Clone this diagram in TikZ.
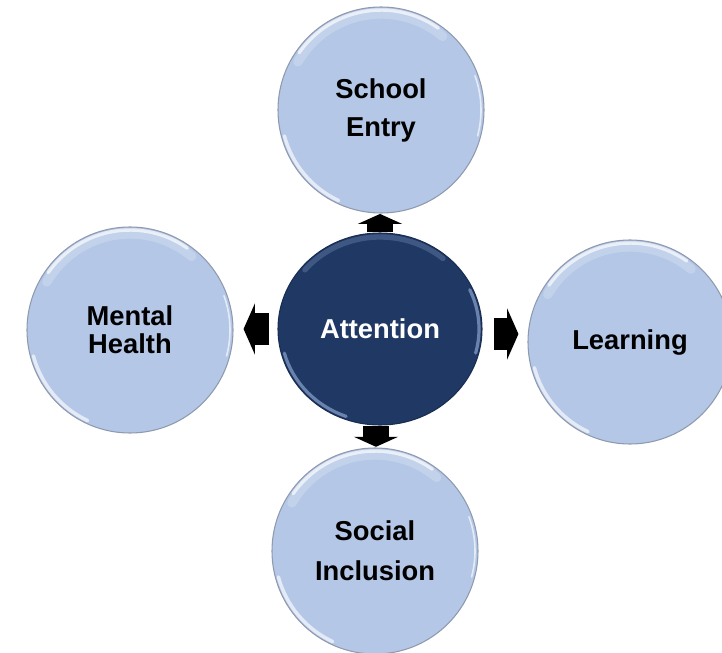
\documentclass[tikz,border=0pt]{standalone}
\usepackage{fontspec}
\setmainfont{Liberation Sans}
\usetikzlibrary{shapes.geometric,arrows.meta,backgrounds}
\definecolor{lightc}{HTML}{B4C7E7}
\definecolor{darkc}{HTML}{1F3864}
\definecolor{rimc}{HTML}{8E9AAE}
\definecolor{darkglare}{HTML}{9DB5E0}
\begin{document}
\begin{tikzpicture}[x=0.75pt,y=-0.75pt,
  outer/.style={circle, fill=lightc, draw=rimc, line width=0.8pt,
    minimum size=154.5pt, inner sep=0pt, align=center, text=black},
  inner/.style={ellipse, fill=darkc, draw=darkc!80!black, line width=0.8pt,
    minimum width=153pt, minimum height=144pt, inner sep=0pt, align=center,
    text=white, font=\fontsize{20.5}{24}\selectfont\bfseries},
  glare/.style={draw=white, line width=2.6pt, opacity=0.65, line cap=round},
  softglare/.style={draw=white, line width=7pt, opacity=0.2, line cap=round},
  dglare/.style={draw=darkglare, line width=2.4pt, opacity=0.6, line cap=round},
  hblock/.style={draw=black, line width=23.5pt,
    -{Triangle[width=38pt,length=8.5pt]}},
  vblock/.style={draw=black, line width=19pt,
    -{Triangle[width=33pt,length=7.5pt]}}
]
\useasboundingbox (0,0) rectangle (722,653);
\clip (0,0) rectangle (722,653);

\node[outer, font=\fontsize{20.5}{28.5}\selectfont\bfseries] (se) at (381,110) {School\\Entry};
\node[outer, font=\fontsize{20.5}{21}\selectfont\bfseries] (mh) at (130,330) {Mental\\Health};
\node[outer, minimum size=153pt, font=\fontsize{20.5}{24}\selectfont\bfseries] (ln) at (630,342) {Learning};
\node[outer, font=\fontsize{20.5}{30}\selectfont\bfseries] (si) at (375,551) {Social\\Inclusion};
\node[inner] (att) at (380,329) {Attention};

% glossy rims on the light circles
\foreach \n/\r in {se/100,mh/100,ln/99,si/100}{
  \draw[softglare] ([shift={(-50:\r-4)}]\n.center) arc[start angle=-50,end angle=-150,radius=\r-4];
  \draw[glare] ([shift={(-55:\r)}]\n.center) arc[start angle=-55,end angle=-145,radius=\r];
  \draw[glare] ([shift={(-195:\r)}]\n.center) arc[start angle=-195,end angle=-245,radius=\r];
  \draw[glare, line width=1.2pt] ([shift={(15:\r)}]\n.center) arc[start angle=15,end angle=-20,radius=\r];
}
% highlights on the dark circle
\draw[dglare, opacity=0.25, line width=4pt] ([shift={(-50:98 and 92)}]att.center) arc[start angle=-50,end angle=-140,x radius=98,y radius=92];
\draw[dglare] ([shift={(-195:99 and 93)}]att.center) arc[start angle=-195,end angle=-250,x radius=99,y radius=93];
\draw[dglare] ([shift={(15:99 and 93)}]att.center) arc[start angle=15,end angle=-25,x radius=99,y radius=93];

\begin{scope}[on background layer]
  \draw[vblock, shorten >=0.3pt] (att.north) -- (att.north |- se.south);
  \draw[vblock, shorten >=0.5pt] ([xshift=-3pt]att.south) -- ([xshift=-3pt]att.south |- si.north);
  \draw[hblock, shorten <=6pt, shorten >=7.5pt] (att.west) -- (att.west -| mh.east);
  \draw[hblock, shorten <=8.25pt, shorten >=6.75pt] ([yshift=-3.75pt]att.east) -- ([yshift=-3.75pt]att.east -| ln.west);
\end{scope}
\end{tikzpicture}
\end{document}
